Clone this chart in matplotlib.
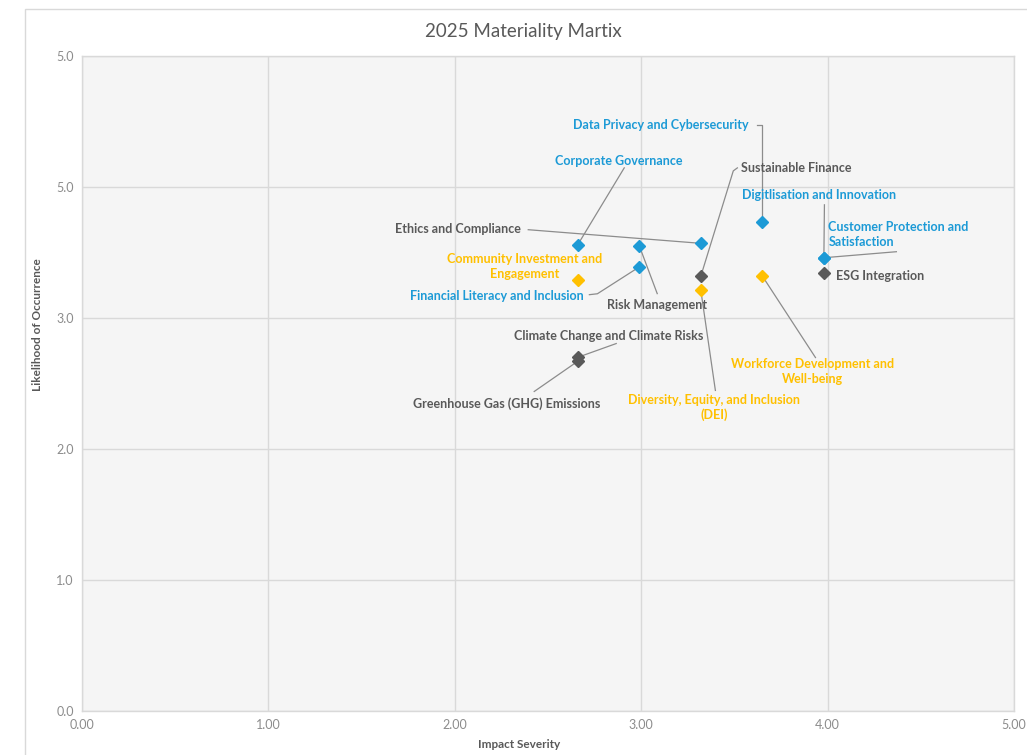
import matplotlib
matplotlib.use("Agg")
import matplotlib.pyplot as plt
from matplotlib.patches import Rectangle

plt.rcParams['font.family'] = ['Lato', 'DejaVu Sans']

# topics, scores (impact, likelihood), marker colour group and label colour group
topics = [
	"Data Privacy and Cybersecurity",
	"Corporate Governance",
	"Sustainable Finance",
	"Digitlisation and Innovation",
	"Customer Protection and\nSatisfaction",
	"ESG Integration",
	"Ethics and Compliance",
	"Community Investment and\nEngagement",
	"Financial Literacy and Inclusion",
	"Risk Management",
	"Climate Change and Climate Risks",
	"Greenhouse Gas (GHG) Emissions",
	"Diversity, Equity, and Inclusion\n(DEI)",
	"Workforce Development and\nWell-being",
]
impact = [3.65, 2.66, 3.32, 3.98, 3.98, 3.98, 3.32, 2.66, 2.99, 2.99, 2.66, 2.66, 3.32, 3.65]
likelihood = [3.73, 3.56, 3.32, 3.46, 3.46, 3.34, 3.57, 3.29, 3.39, 3.55, 2.70, 2.67, 3.21, 3.32]
group = ["blue", "blue", "gray", "blue", "blue", "gray", "blue", "yellow",
		 "blue", "blue", "gray", "gray", "yellow", "yellow"]
label_group = ["blue", "blue", "gray", "blue", "blue", "gray", "gray", "yellow",
			   "blue", "gray", "gray", "gray", "yellow", "yellow"]

x_ticks = [0, 1, 2, 3, 4, 5]
x_tick_labels = ["0.00", "1.00", "2.00", "3.00", "4.00", "5.00"]
y_ticks = [0, 1, 2, 3, 4, 5]
y_tick_labels = ["0.0", "1.0", "2.0", "3.0", "5.0", "5.0"]

# label placement: text position, alignment, leader line start (None = no leader)
label_pos = [
	(3.103, 4.474, 'center', [(3.623, 4.474), (3.650, 4.474)]),
	(2.882, 4.200, 'center', [(2.909, 4.146)]),
	(3.833, 4.146, 'center', [(3.516, 4.146), (3.494, 4.123)]),
	(3.956, 3.941, 'center', [(3.983, 3.864)]),
	(4.004, 3.640, 'left', [(4.369, 3.506)]),
	(4.047, 3.323, 'left', None),
	(2.018, 3.681, 'center', [(2.394, 3.674)]),
	(2.373, 3.392, 'center', None),
	(2.228, 3.171, 'center', [(2.722, 3.178), (2.765, 3.185)]),
	(3.086, 3.102, 'center', [(3.086, 3.186)]),
	(2.823, 2.866, 'center', [(2.866, 2.805)]),
	(2.281, 2.348, 'center', [(2.426, 2.439)]),
	(3.392, 2.317, 'center', [(3.398, 2.447)]),
	(3.918, 2.591, 'center', [(3.935, 2.698)]),
]

colors = {"blue": "#1C9AD6", "gray": "#595959", "yellow": "#FFC000"}

W, H = 1027, 755
fig = plt.figure(figsize=(W / 100, H / 100), dpi=100)
fig.patches.append(Rectangle((25 / W, -0.1), 1.2, 1 - 9 / H + 0.1, transform=fig.transFigure,
							 fill=False, edgecolor='#D9D9D9', linewidth=1.0))

ax = fig.add_axes([82 / W, (H - 711) / H, (1014 - 82) / W, (711 - 56) / H])
ax.set_facecolor('#F5F5F5')
ax.set_xlim(0, 5)
ax.set_ylim(0, 5)
ax.set_xticks(x_ticks)
ax.set_xticklabels(x_tick_labels)
ax.set_yticks(y_ticks)
ax.set_yticklabels(y_tick_labels)
ax.tick_params(length=0, labelsize=9, labelcolor='#8C8C8C', pad=6)
ax.grid(color='#D9D9D9', linewidth=1.0)
ax.set_axisbelow(True)
for s in ax.spines.values():
	s.set_color('#D9D9D9')
	s.set_linewidth(1.0)

# leader lines
for i, (tx, ty, ha, leader) in enumerate(label_pos):
	if leader is None:
		continue
	xs = [p[0] for p in leader] + [impact[i]]
	ys = [p[1] for p in leader] + [likelihood[i]]
	ax.plot(xs, ys, color='#8C8C8C', linewidth=0.9, zorder=2)

for i in range(len(topics)):
	ax.plot(impact[i], likelihood[i], marker='D', markersize=6.5, linestyle='',
			color=colors[group[i]], zorder=3)

for i, (tx, ty, ha, leader) in enumerate(label_pos):
	ax.text(tx, ty, topics[i], ha=ha, va='center', multialignment=ha,
			fontsize=9, fontweight='bold', color=colors[label_group[i]],
			linespacing=1.3, zorder=4)

fig.text(523 / W, 1 - 32 / H, "2025 Materiality Martix", ha='center', va='center',
		 fontsize=13.5, color='#595959')
fig.text(519 / W, 1 - 744 / H, "Impact Severity", ha='center', va='center',
		 fontsize=8.5, fontweight='bold', color='#595959')
fig.text(38 / W, 1 - 325 / H, "Likelihood of Occurrence", ha='center', va='center',
		 rotation=90, fontsize=8.5, fontweight='bold', color='#595959')

fig.savefig("out.png", dpi=100, facecolor='white')
